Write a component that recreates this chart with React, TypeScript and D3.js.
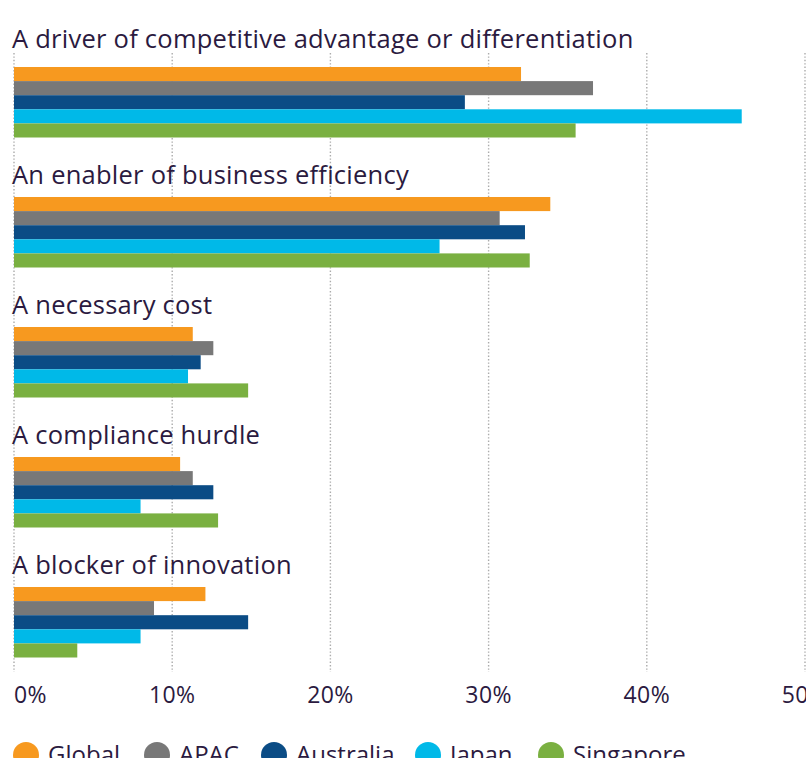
import React, { useEffect, useRef } from "react";
import * as d3 from "d3";

const categories = [
  "A driver of competitive advantage or differentiation",
  "An enabler of business efficiency",
  "A necessary cost",
  "A compliance hurdle",
  "A blocker of innovation",
];

const seriesNames = ["Global", "APAC", "Australia", "Japan", "Singapore"];
const seriesColors = ["#F7991F", "#787878", "#0B4C85", "#00B9E8", "#7AB041"];

const globalValues = [32.05, 33.9, 11.3, 10.5, 12.1];
const apacValues = [36.6, 30.7, 12.6, 11.3, 8.85];
const australiaValues = [28.5, 32.3, 11.8, 12.6, 14.8];
const japanValues = [46.0, 26.9, 11.0, 8.0, 8.0];
const singaporeValues = [35.5, 32.6, 14.8, 12.9, 4.0];

const tickValues = [0, 10, 20, 30, 40, 50];

const W = 806;
const H = 758;
const TEXT = "#2B1A40";
const FONT = "'Open Sans', sans-serif";

const App = () => {
  const svgRef = useRef<SVGSVGElement>(null);

  useEffect(() => {
    const svg = d3.select(svgRef.current);
    svg.selectAll("*").remove();

    const allSeries = [globalValues, apacValues, australiaValues, japanValues, singaporeValues];
    const rows = categories.map((c, i) => ({
      cat: c,
      values: seriesNames.map((s, j) => ({ name: s, value: allSeries[j][i], color: seriesColors[j] })),
    }));

    const x = d3.scaleLinear().domain([0, 50]).range([14, 805]);

    // group step 130, 5 bars of ~14px each
    const y0 = d3.scaleBand().domain(categories).range([67, 657.5]).paddingInner(0.4577).paddingOuter(0);
    const y1 = d3.scaleBand().domain(seriesNames).range([0, y0.bandwidth()]).padding(0);

    // dotted gridlines
    svg.append("g")
      .selectAll("line")
      .data(tickValues)
      .enter()
      .append("line")
      .attr("x1", d => x(d))
      .attr("x2", d => x(d))
      .attr("y1", 53)
      .attr("y2", 672)
      .attr("stroke", "#ababab")
      .attr("stroke-width", 1.4)
      .attr("stroke-dasharray", "1.4 2");

    // category titles
    svg.append("g")
      .selectAll("text")
      .data(categories)
      .enter()
      .append("text")
      .attr("x", 12)
      .attr("y", (d, i) => y0(d)! - (i === 0 ? 19 : 13))
      .attr("fill", TEXT)
      .attr("font-family", FONT)
      .attr("font-size", 25.5)
      .attr("letter-spacing", 0.25)
      .text(d => d);

    // bars
    const groups = svg.append("g")
      .selectAll("g")
      .data(rows)
      .enter()
      .append("g")
      .attr("transform", d => `translate(0,${y0(d.cat)})`);

    groups.selectAll("rect")
      .data(d => d.values)
      .enter()
      .append("rect")
      .attr("x", x(0))
      .attr("y", d => y1(d.name)!)
      .attr("width", d => x(d.value) - x(0))
      .attr("height", y1.bandwidth())
      .attr("fill", d => d.color);

    // x tick labels
    svg.append("g")
      .selectAll("text")
      .data(tickValues)
      .enter()
      .append("text")
      .attr("x", d => (d === 0 ? x(0) : x(d)))
      .attr("y", 703)
      .attr("text-anchor", d => (d === 0 ? "start" : "middle"))
      .attr("fill", TEXT)
      .attr("font-family", FONT)
      .attr("font-size", 23)
      .attr("letter-spacing", 0.4)
      .text(d => `${d}%`);

    // legend
    const legendX = [13, 144, 261, 415, 538];
    const legend = svg.append("g")
      .selectAll("g")
      .data(seriesNames)
      .enter()
      .append("g")
      .attr("transform", (d, i) => `translate(${legendX[i]},755)`);

    legend.append("circle")
      .attr("cx", 13)
      .attr("cy", 0)
      .attr("r", 13)
      .attr("fill", (d, i) => seriesColors[i]);

    legend.append("text")
      .attr("x", 35)
      .attr("y", 8)
      .attr("fill", TEXT)
      .attr("font-family", FONT)
      .attr("font-size", 24)
      .text(d => d);
  }, []);

  return (
    <svg
      ref={svgRef}
      width={W}
      height={H}
      style={{ position: "absolute", left: 0, top: 0, background: "#fff" }}
    ></svg>
  );
};

export default App;
